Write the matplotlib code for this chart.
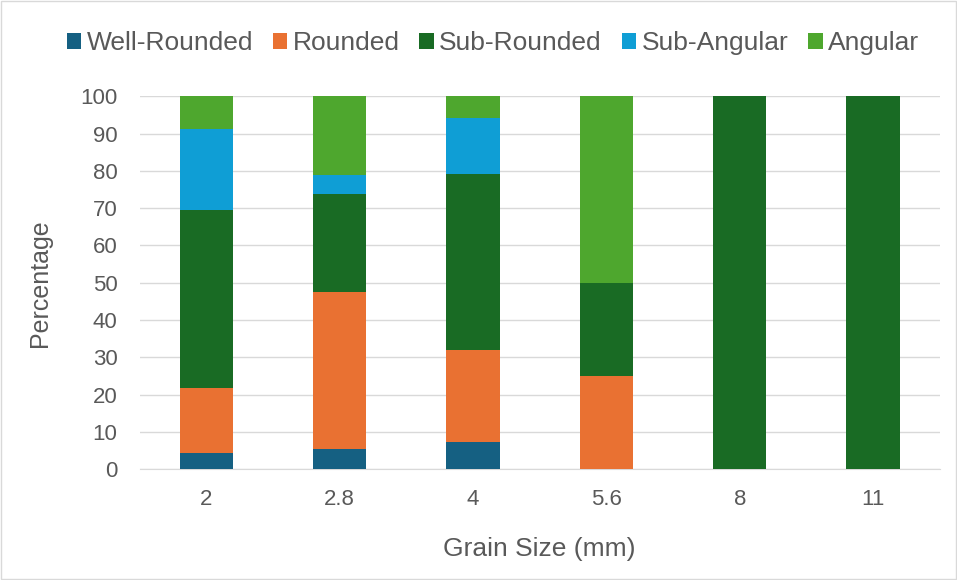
import matplotlib.pyplot as plt
import numpy as np

plt.rcParams['font.family'] = ['Liberation Sans', 'DejaVu Sans']

sizes = ['2', '2.8', '4', '5.6', '8', '11']
series = ['Well-Rounded', 'Rounded', 'Sub-Rounded', 'Sub-Angular', 'Angular']
well_rounded = [4.3, 5.3, 7.3, 0, 0, 0]
rounded = [17.4, 42.1, 24.8, 25, 0, 0]
sub_rounded = [47.8, 26.3, 47.0, 25, 100, 100]
sub_angular = [21.7, 5.3, 15.2, 0, 0, 0]
angular = [8.8, 21.0, 5.7, 50, 0, 0]
colors = ['#156082', '#E97132', '#196B24', '#0F9ED5', '#4EA72E']

fig = plt.figure(figsize=(9.57, 5.8), dpi=100)
ax = fig.add_axes([0.146, 0.191, 0.836, 0.643])

x = np.arange(len(sizes))
bottom = np.zeros(len(sizes))
for name, vals, c in zip(series, [well_rounded, rounded, sub_rounded, sub_angular, angular], colors):
    ax.bar(x, vals, 0.4, bottom=bottom, color=c, label=name, zorder=3)
    bottom += np.array(vals)

ax.set_xlim(-0.5, len(sizes) - 0.5)
ax.set_ylim(0, 100)
ax.set_yticks(range(0, 101, 10))
ax.set_xticks(x)
ax.set_xticklabels(sizes)
ax.grid(axis='y', color='#d9d9d9', linewidth=1, zorder=0)
for s in ['top', 'right', 'left']:
    ax.spines[s].set_visible(False)
ax.spines['bottom'].set_color('#d9d9d9')
ax.tick_params(length=0, labelsize=16, colors='#595959')
ax.tick_params(axis='y', pad=16)
ax.tick_params(axis='x', pad=14)
ax.set_ylabel('Percentage', fontsize=18, color='#595959', labelpad=20)
ax.set_xlabel('Grain Size (mm)', fontsize=19, color='#595959', labelpad=20)

fig.legend(loc='center', bbox_to_anchor=(0.515, 0.926), ncol=5, frameon=False,
           fontsize=19, handlelength=0.55, handleheight=0.55, handletextpad=0.2,
           columnspacing=0.75, labelcolor='#595959')

fig.patches.append(plt.Rectangle((0.001, 0.001), 0.998, 0.998, transform=fig.transFigure,
                                 fill=False, edgecolor='#d9d9d9', linewidth=1))

fig.savefig('out.png', dpi=100)
